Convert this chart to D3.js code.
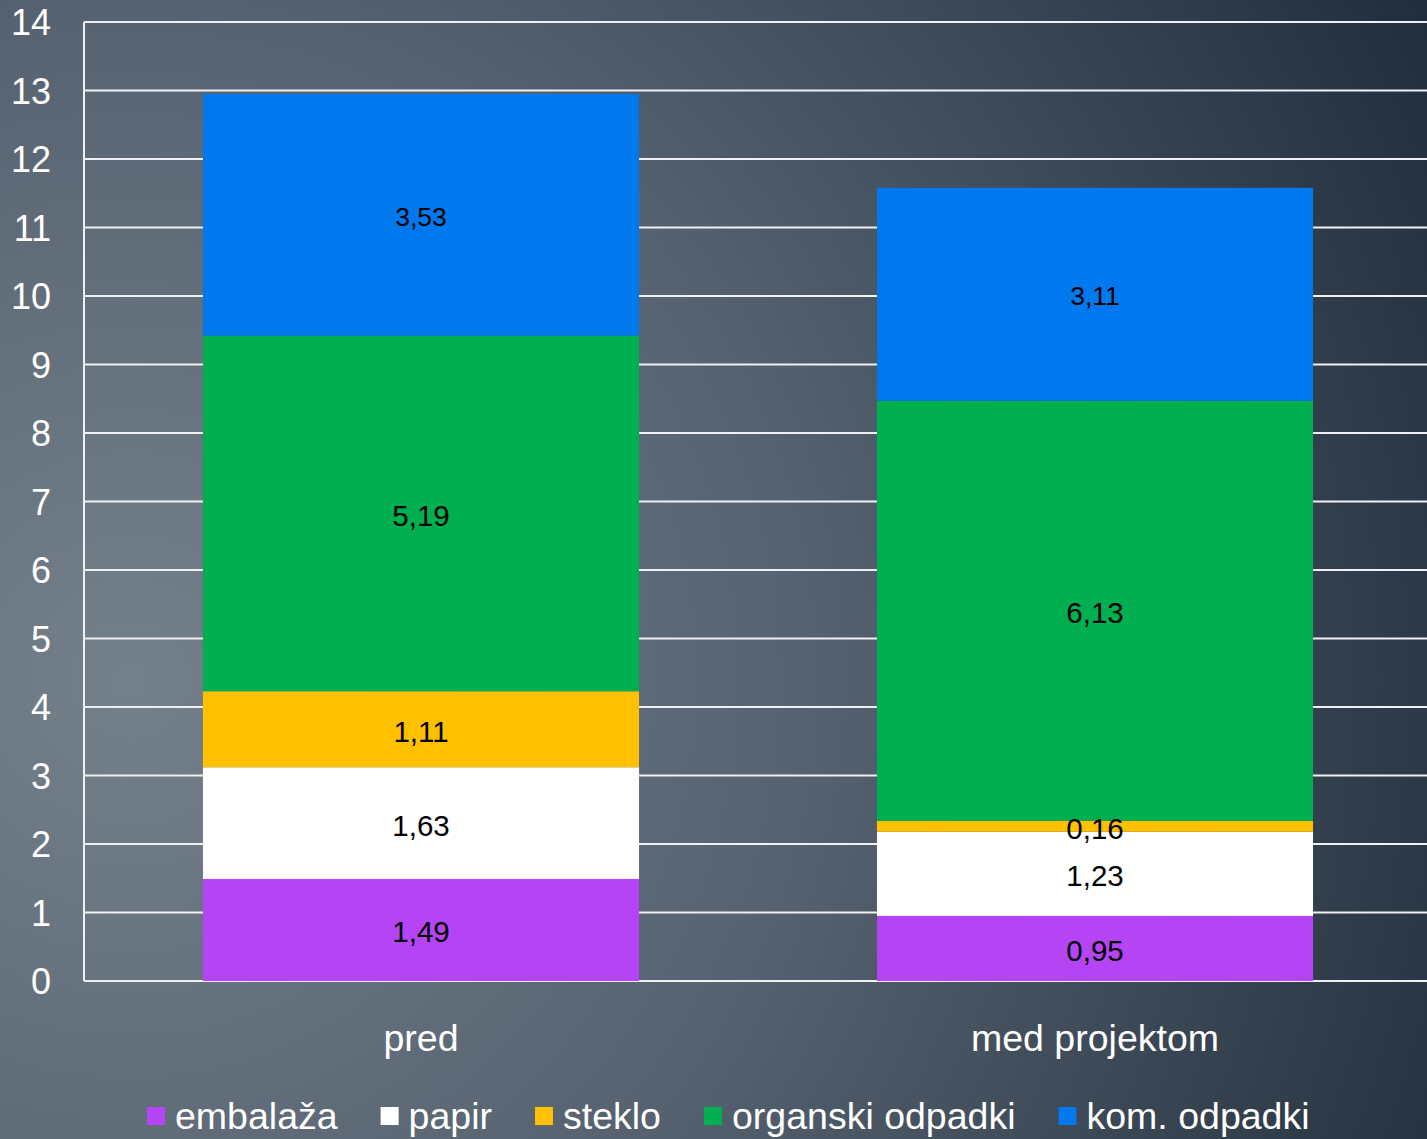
<!DOCTYPE html>
<html>
<head>
<meta charset="utf-8">
<script src="https://cdn.jsdelivr.net/npm/d3@7"></script>
<style>
  html, body { margin: 0; padding: 0; background: #3a4651; }
  svg { display: block; font-family: "Liberation Sans", Arial, sans-serif; }
</style>
</head>
<body>
<svg id="chart" width="1427" height="1139"></svg>
<script>
// Waste composition per period (stacked from the bottom up)
const categories = ["pred", "med projektom"];
const seriesNames = ["embalaža", "papir", "steklo", "organski odpadki", "kom. odpadki"];
const seriesColors = ["#b444f4", "#ffffff", "#ffc000", "#00b050", "#0078ee"];
const embalaza = [1.49, 0.95];
const papir = [1.63, 1.23];
const steklo = [1.11, 0.16];
const organski = [5.19, 6.13];
const komunalni = [3.53, 3.11];
const yTicks = [0, 1, 2, 3, 4, 5, 6, 7, 8, 9, 10, 11, 12, 13, 14];

const seriesValues = [embalaza, papir, steklo, organski, komunalni];
const rows = categories.map((c, i) => {
  const r = { cat: c };
  seriesNames.forEach((s, k) => { r[s] = seriesValues[k][i]; });
  return r;
});

const W = 1427, H = 1139;
const svg = d3.select("#chart");

// Background: soft radial shading from grey-blue to dark navy
const defs = svg.append("defs");
const grad = defs.append("radialGradient")
  .attr("id", "bg").attr("gradientUnits", "userSpaceOnUse")
  .attr("cx", 130).attr("cy", 680).attr("r", 1500);
grad.append("stop").attr("offset", 0).attr("stop-color", "#74808a");
grad.append("stop").attr("offset", 0.45).attr("stop-color", "#566270");
grad.append("stop").attr("offset", 1).attr("stop-color", "#1e2b39");
svg.append("rect").attr("width", W).attr("height", H).attr("fill", "url(#bg)");

const plot = { left: 84, right: 1432, top: 22, bottom: 981 };

const y = d3.scaleLinear().domain([0, 14]).range([plot.bottom, plot.top]);
const x = d3.scaleBand().domain(categories)
  .range([plot.left, plot.right])
  .paddingInner(0.353).paddingOuter(0.1765);

// Horizontal gridlines
svg.append("g").selectAll("line").data(yTicks).join("line")
  .attr("x1", plot.left).attr("x2", plot.right)
  .attr("y1", d => y(d)).attr("y2", d => y(d))
  .attr("stroke", "#eef0f2").attr("stroke-width", 2);

// Vertical value axis line
svg.append("line")
  .attr("x1", plot.left).attr("x2", plot.left)
  .attr("y1", y(14)).attr("y2", y(0))
  .attr("stroke", "#eef0f2").attr("stroke-width", 2);

// Y tick labels
const yAxis = d3.axisLeft(y).tickValues(yTicks).tickSize(0).tickPadding(33)
  .tickFormat(d3.format("d"));
const yg = svg.append("g").attr("transform", `translate(${plot.left},1)`).call(yAxis);
yg.select(".domain").remove();
yg.selectAll("text").attr("fill", "#ffffff").attr("font-size", 36)
  .attr("font-family", "Liberation Sans, Arial, sans-serif");

// Stacked bars
const stack = d3.stack().keys(seriesNames);
const layers = stack(rows);
const color = d3.scaleOrdinal().domain(seriesNames).range(seriesColors);

const fmt = v => v.toFixed(2).replace(".", ",");

layers.forEach((layer) => {
  svg.append("g").selectAll("rect").data(layer).join("rect")
    .attr("x", d => x(d.data.cat))
    .attr("width", x.bandwidth())
    .attr("y", d => y(d[1]))
    .attr("height", d => y(d[0]) - y(d[1]))
    .attr("fill", color(layer.key));
});

// Data labels, centred in each segment
layers.forEach((layer) => {
  svg.append("g").selectAll("text").data(layer).join("text")
    .attr("x", d => x(d.data.cat) + x.bandwidth() / 2)
    .attr("y", d => (y(d[0]) + y(d[1])) / 2 + 2)
    .attr("text-anchor", "middle")
    .attr("dominant-baseline", "central")
    .attr("font-size", layer.key === "kom. odpadki" ? 26.5 : 29.5)
    .attr("fill", "#000000")
    .text(d => fmt(d[1] - d[0]));
});

// Category labels
svg.append("g").selectAll("text").data(categories).join("text")
  .attr("x", d => x(d) + x.bandwidth() / 2)
  .attr("y", 1038)
  .attr("text-anchor", "middle")
  .attr("dominant-baseline", "central")
  .attr("font-size", 37.5)
  .attr("fill", "#ffffff")
  .text(d => d);

// Legend
const legend = svg.append("g");
let lx = 147;
const ly = 1116;
seriesNames.forEach((name, k) => {
  legend.append("rect")
    .attr("x", lx).attr("y", ly - 9)
    .attr("width", 18).attr("height", 18)
    .attr("fill", seriesColors[k]);
  const t = legend.append("text")
    .attr("x", lx + 28).attr("y", ly)
    .attr("dominant-baseline", "central")
    .attr("font-size", 37.5)
    .attr("fill", "#ffffff")
    .text(name);
  lx += 28 + t.node().getComputedTextLength() + 43;
});
</script>
</body>
</html>
